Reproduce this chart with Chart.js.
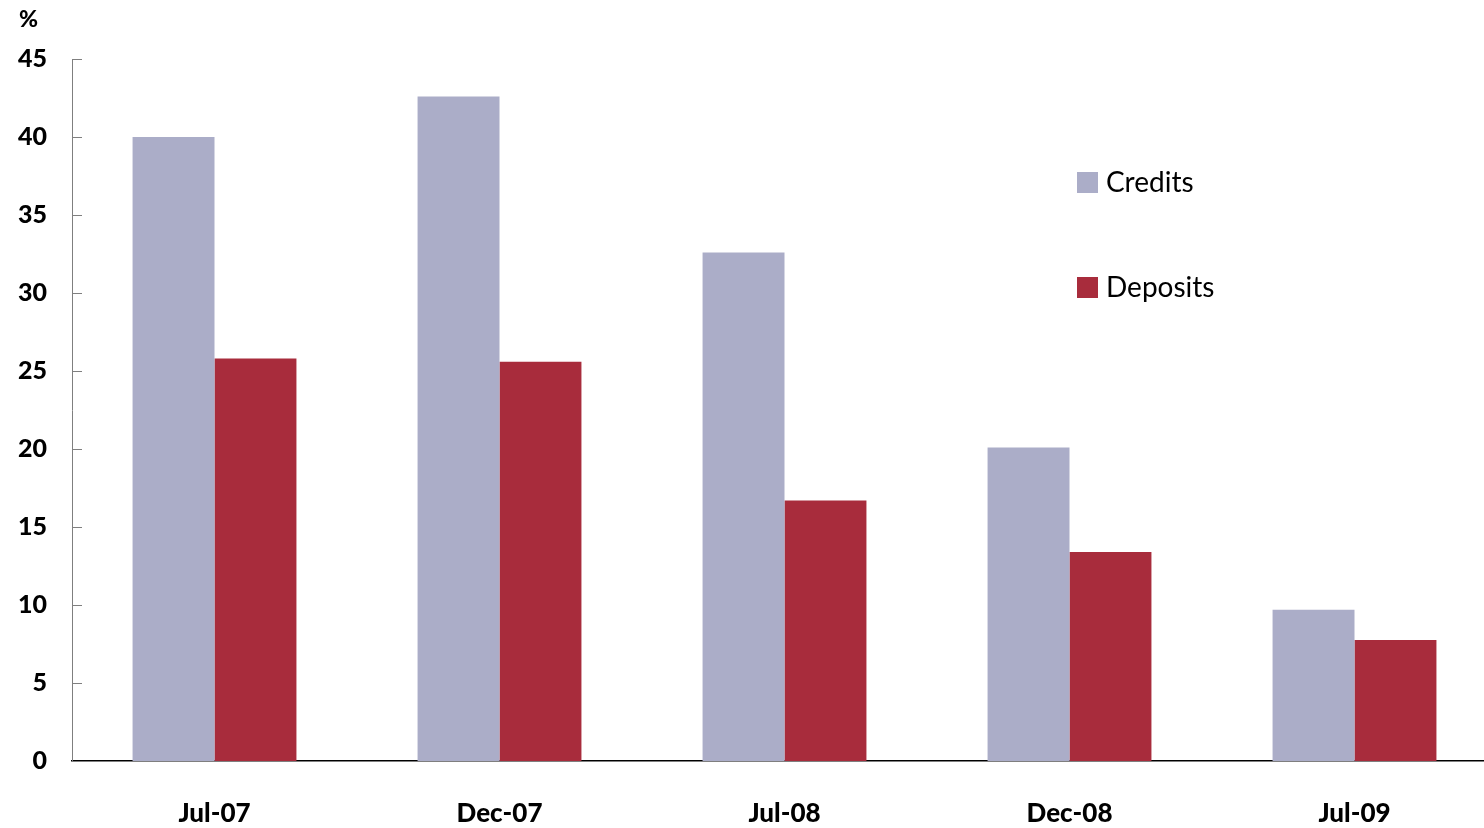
<!DOCTYPE html>
<html>
<head>
<meta charset="utf-8">
<script src="https://cdn.jsdelivr.net/npm/chart.js@4"></script>
<style>
  html, body { margin: 0; padding: 0; background: #fff; overflow: hidden; }
  #wrap { width: 1497px; height: 828px; }
</style>
</head>
<body>
<div id="wrap"><canvas id="chart"></canvas></div>
<script>
const categories = ['Jul-07', 'Dec-07', 'Jul-08', 'Dec-08', 'Jul-09'];
const credits = [40, 42.6, 32.6, 20.1, 9.7];
const deposits = [25.8, 25.6, 16.7, 13.4, 7.75];
const yTicks = [0, 5, 10, 15, 20, 25, 30, 35, 40, 45];

// small inward tick marks on the y axis, the % unit and the legend
const decorations = {
    id: 'decorations',
    afterDraw(chart) {
        const ctx = chart.ctx;
        const y = chart.scales.y;
        const left = chart.chartArea.left;
        ctx.save();
        ctx.strokeStyle = '#7f7f7f';
        ctx.lineWidth = 1;
        yTicks.forEach(v => {
            const py = Math.round(y.getPixelForValue(v)) + 0.5;
            ctx.beginPath();
            ctx.moveTo(left, py);
            ctx.lineTo(left + 10, py);
            ctx.stroke();
        });

        ctx.fillStyle = '#000';
        ctx.font = '900 23px Lato';
        ctx.textAlign = 'left';
        ctx.textBaseline = 'middle';
        ctx.fillText('%', 19, 20);

        // legend
        const rows = [182, 287];
        chart.data.datasets.forEach((ds, i) => {
            ctx.fillStyle = ds.backgroundColor;
            ctx.fillRect(1077, rows[i] - 10, 21, 21);
            ctx.fillStyle = '#000';
            ctx.font = '28px Lato';
            ctx.fillText(ds.label, 1106, rows[i] + 1);
        });
        ctx.restore();
    }
};

new Chart(document.getElementById('chart'), {
    type: 'bar',
    data: {
        labels: categories,
        datasets: [
            { label: 'Credits', data: credits, backgroundColor: '#abadc8' },
            { label: 'Deposits', data: deposits, backgroundColor: '#a82c3c' }
        ]
    },
    options: {
        responsive: true,
        maintainAspectRatio: false,
        animation: false,
        categoryPercentage: 0.575,
        barPercentage: 1,
        layout: { padding: { top: 59, left: 0, right: 0, bottom: 0 } },
        plugins: { legend: { display: false }, tooltip: { enabled: false } },
        scales: {
            x: {
                grid: { display: false },
                border: { color: '#000', width: 1.5 },
                ticks: {
                    color: '#000',
                    font: { family: 'Lato', weight: 900, size: 26 },
                    padding: 29,
                    maxRotation: 0
                },
                afterFit(scale) { scale.height = 67; }
            },
            y: {
                min: 0,
                max: 45,
                grid: { display: false, drawTicks: false },
                border: { color: '#7f7f7f', width: 1 },
                ticks: {
                    stepSize: 5,
                    color: '#000',
                    font: { family: 'Lato', weight: 900, size: 25 },
                    padding: 25
                },
                afterFit(scale) { scale.width = 72; }
            }
        }
    },
    plugins: [decorations]
});
</script>
</body>
</html>
